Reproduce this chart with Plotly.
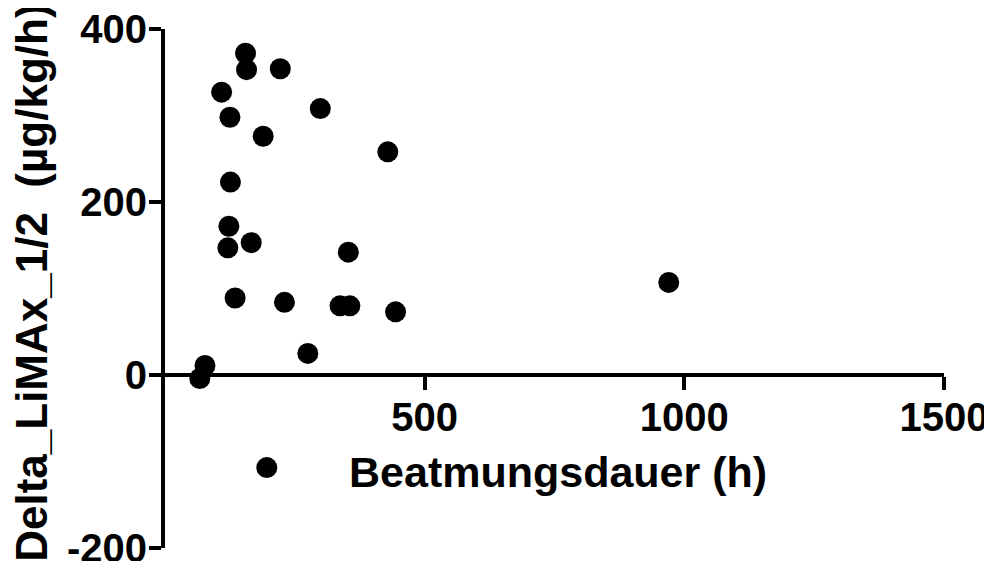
import plotly.graph_objects as go

# Beatmungsdauer (h) vs. Delta LiMAx 1/2
beatmungsdauer = [155, 157, 222, 109, 125, 299, 189, 429, 126, 123, 121, 166,
                  353, 970, 135, 230, 337, 356, 444, 275, 77, 67, 196]
delta_limax = [372, 353, 354, 327, 298, 308, 276, 258, 223, 172, 147, 153,
               142, 107, 89, 84, 80, 80, 73, 25, 11, -4, -107]

x_ticks = [500, 1000, 1500]
y_ticks = [-200, 0, 200, 400]

FONT = "Liberation Sans, Arial, sans-serif"

fig = go.Figure(
    go.Scatter(
        x=beatmungsdauer,
        y=delta_limax,
        mode="markers",
        marker=dict(color="black", size=21, line=dict(width=0)),
        cliponaxis=False,
    )
)

# die Seite hat 8px Rand (body margin), daher 984x553
fig.update_layout(
    width=984,
    height=553,
    margin=dict(l=157, r=48, t=21, b=13, autoexpand=False),
    paper_bgcolor="white",
    plot_bgcolor="white",
    showlegend=False,
    font=dict(family=FONT, color="black"),
)

axis_style = dict(
    ticks="outside",
    tickwidth=4,
    tickcolor="black",
    showline=True,
    linewidth=4,
    linecolor="black",
    showgrid=False,
    zeroline=False,
    automargin=False,
    ticklabeloverflow="allow",
    tickfont=dict(family=FONT, size=40, color="black", weight="bold"),
)

# x-Achse liegt bei y=0 (Prism-Stil)
fig.update_xaxes(
    range=[0, 1500],
    anchor="free",
    position=1 / 3,
    tickvals=x_ticks,
    ticktext=[str(v) for v in x_ticks],
    ticklen=13,
    ticklabelstandoff=-7,
    **axis_style,
)
fig.update_yaxes(
    range=[-200, 400],
    tickvals=y_ticks,
    ticktext=[str(v) for v in y_ticks],
    ticklen=12,
    ticklabelstandoff=-6,
    **axis_style,
)

fig.add_annotation(
    text="Beatmungsdauer (h)",
    xref="paper", yref="paper",
    x=0.5045, y=0.147,
    xanchor="center", yanchor="middle",
    showarrow=False,
    font=dict(family=FONT, size=43, color="black", weight="bold"),
)
fig.add_annotation(
    text="Delta_LiMAx_1/2&nbsp; (µg/kg/h)",
    xref="paper", yref="paper",
    x=-0.1707, y=0.511,
    xanchor="center", yanchor="middle",
    textangle=-90,
    showarrow=False,
    font=dict(family=FONT, size=44, color="black", weight="bold"),
)

fig.write_html("out.html")
